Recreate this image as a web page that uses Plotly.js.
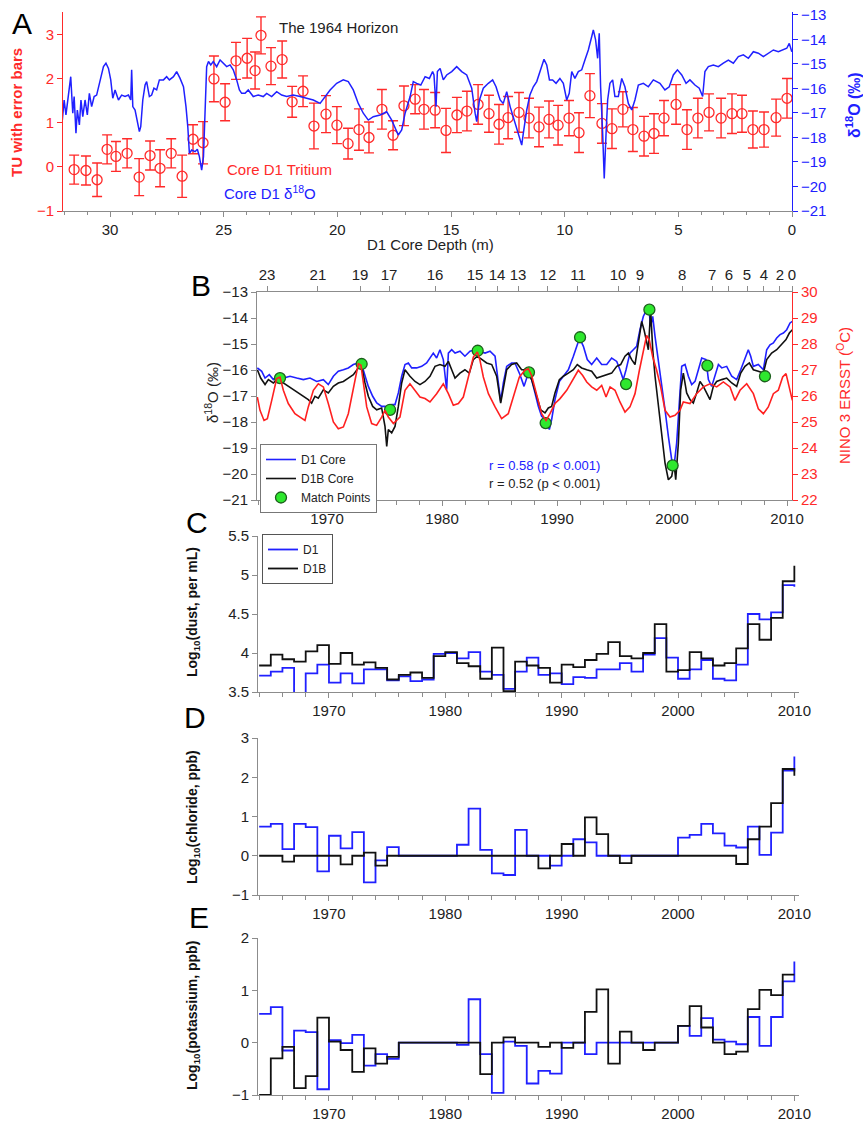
<!DOCTYPE html>
<html><head><meta charset="utf-8">
<script src="https://cdn.plot.ly/plotly-3.0.1.min.js"></script>
<style>html,body{margin:0;padding:0;background:#fff}#chart{width:863px;height:1126px}</style>
</head><body><div id="chart"></div>
<script>
// ---------- Panel A: tritium ----------
const triDepth = [31.58,31.06,30.57,30.13,29.74,29.25,28.72,28.24,27.80,27.31,26.83,26.35,25.91,25.43,24.94,24.46,23.97,23.62,23.36,22.92,22.43,21.99,21.51,21.03,20.50,20.02,19.53,19.05,18.61,18.04,17.55,17.07,16.58,16.19,15.70,15.22,14.74,14.30,13.81,13.33,12.89,12.49,12.01,11.57,11.13,10.69,10.29,9.81,9.37,8.89,8.36,7.92,7.44,7.00,6.51,6.07,5.63,5.10,4.62,4.14,3.65,3.12,2.64,2.20,1.72,1.23,0.70,0.22];
const triTU = [-0.06,-0.08,-0.29,0.40,0.24,0.31,-0.23,0.26,-0.03,0.31,-0.21,0.63,0.55,2.0,1.47,2.41,2.47,2.19,2.99,2.29,2.44,1.48,1.72,0.93,1.2,0.95,0.53,0.85,0.67,1.31,0.72,1.39,1.54,1.31,1.29,0.83,1.18,1.27,1.42,1.21,0.97,1.12,1.24,1.11,0.91,1.08,0.95,1.11,0.78,1.62,0.99,0.87,1.31,0.85,0.70,0.76,1.11,1.42,0.85,1.11,1.24,1.11,1.21,1.21,0.85,0.85,1.12,1.56];
const triErr = [0.33,0.33,0.38,0.33,0.34,0.33,0.42,0.33,0.42,0.33,0.48,0.33,0.48,0.52,0.42,0.42,0.45,0.42,0.42,0.42,0.42,0.35,0.35,0.52,0.42,0.42,0.35,0.47,0.35,0.45,0.33,0.45,0.33,0.45,0.40,0.50,0.40,0.45,0.45,0.42,0.45,0.48,0.45,0.45,0.45,0.42,0.45,0.40,0.45,0.50,0.45,0.45,0.40,0.50,0.45,0.45,0.40,0.45,0.45,0.45,0.42,0.45,0.45,0.42,0.42,0.40,0.42,0.45];
// ---------- Panel A: D1 d18O by depth ----------
const aDepth = [32.10,32.02,31.94,31.83,31.73,31.64,31.58,31.50,31.44,31.35,31.28,31.20,31.10,31.00,30.91,30.81,30.70,30.59,30.44,30.29,30.18,30.07,29.97,29.88,29.78,29.63,29.49,29.34,29.19,29.09,29.05,29.00,28.90,28.80,28.71,28.65,28.56,28.46,28.39,28.27,28.17,28.07,27.95,27.83,27.65,27.51,27.39,27.21,27.07,26.92,26.77,26.66,26.58,26.51,26.41,26.26,26.16,26.07,25.97,25.89,25.82,25.75,25.67,25.57,25.46,25.31,25.16,25.01,24.87,24.72,24.58,24.43,24.31,24.21,24.06,23.92,23.70,23.48,23.26,23.11,22.89,22.67,22.45,22.23,21.94,21.64,21.35,21.06,20.76,20.54,20.32,20.03,19.74,19.52,19.30,19.08,18.86,18.64,18.42,18.12,17.83,17.61,17.46,17.32,17.17,17.02,16.80,16.66,16.51,16.33,16.14,15.95,15.81,15.75,15.66,15.60,15.48,15.34,15.19,14.97,14.75,14.53,14.31,14.09,13.94,13.87,13.75,13.58,13.36,13.17,13.02,12.84,12.70,12.55,12.40,12.18,12.04,11.89,11.82,11.67,11.53,11.38,11.23,11.06,10.91,10.79,10.67,10.53,10.38,10.21,10.06,9.91,9.80,9.69,9.55,9.40,9.25,9.11,8.96,8.81,8.74,8.64,8.55,8.48,8.42,8.33,8.26,8.18,8.11,8.01,7.89,7.79,7.64,7.49,7.35,7.20,7.05,6.91,6.76,6.54,6.32,6.10,5.81,5.59,5.40,5.22,5.04,4.85,4.66,4.49,4.27,4.08,3.93,3.83,3.68,3.46,3.24,3.02,2.80,2.58,2.36,2.14,1.92,1.70,1.48,1.26,1.04,0.82,0.60,0.38,0.23,0.12,0.01];
const aD18O = [-17.29,-16.47,-17.08,-16.33,-15.52,-17.01,-16.33,-17.83,-16.88,-17.49,-16.47,-17.15,-16.47,-17.08,-16.20,-16.74,-16.33,-16.27,-15.65,-15.11,-14.97,-15.18,-15.65,-16.40,-16.06,-16.47,-16.27,-16.33,-16.27,-16.47,-15.24,-16.74,-16.88,-17.42,-17.76,-17.56,-16.47,-15.86,-15.72,-16.33,-16.27,-15.99,-16.06,-15.65,-15.65,-15.52,-15.65,-15.52,-15.31,-15.59,-15.93,-16.74,-17.56,-18.65,-18.51,-18.58,-18.48,-18.78,-19.33,-18.78,-16.47,-15.11,-14.90,-15.04,-14.90,-15.11,-14.84,-14.97,-15.11,-15.04,-15.24,-15.65,-16.06,-16.20,-16.20,-16.06,-16.33,-16.27,-16.33,-16.20,-16.33,-16.13,-16.27,-16.33,-16.27,-16.33,-16.40,-16.47,-16.61,-16.33,-16.06,-15.79,-15.65,-15.72,-16.06,-16.61,-17.01,-17.29,-17.15,-17.08,-16.95,-17.29,-17.63,-17.90,-17.69,-17.01,-16.33,-15.72,-15.79,-15.86,-15.52,-15.59,-15.31,-15.45,-16.74,-15.31,-15.18,-15.65,-15.45,-15.31,-15.11,-15.31,-15.45,-15.99,-17.01,-17.35,-16.47,-15.99,-15.79,-15.65,-15.93,-16.47,-16.61,-16.13,-16.74,-17.42,-17.83,-18.31,-17.83,-16.88,-16.27,-15.93,-15.72,-15.24,-14.81,-15.04,-15.65,-15.65,-15.79,-15.59,-15.79,-16.47,-16.20,-15.31,-15.59,-15.31,-15.24,-14.84,-14.43,-13.88,-13.61,-14.02,-14.77,-13.75,-15.93,-17.83,-19.67,-17.83,-16.47,-15.79,-15.65,-16.33,-16.33,-15.59,-15.93,-16.61,-16.88,-16.47,-15.86,-15.79,-15.93,-15.65,-15.79,-16.06,-15.93,-15.45,-15.24,-15.45,-15.79,-15.65,-15.86,-15.99,-16.33,-15.31,-15.11,-15.04,-15.11,-14.97,-14.84,-14.97,-14.70,-14.63,-14.77,-14.50,-14.56,-14.70,-14.56,-14.43,-14.50,-14.43,-14.36,-14.16,-14.50];
// ---------- Panel B ----------
const d1Year = [1963.94,1964.32,1964.61,1964.98,1965.33,1965.77,1966.20,1966.78,1967.36,1967.94,1968.52,1969.10,1969.68,1970.11,1970.55,1970.98,1971.42,1971.85,1972.29,1972.72,1973.01,1973.30,1973.59,1973.97,1974.32,1974.75,1975.04,1975.33,1975.62,1975.91,1976.20,1976.49,1976.78,1977.07,1977.36,1977.79,1978.23,1978.66,1978.95,1979.24,1979.53,1979.82,1980.11,1980.40,1980.55,1980.84,1981.13,1981.56,1981.99,1982.43,1982.87,1983.30,1983.74,1984.17,1984.61,1984.90,1985.10,1985.33,1985.62,1986.05,1986.34,1986.78,1987.13,1987.50,1987.79,1988.08,1988.37,1988.66,1989.04,1989.33,1989.53,1989.82,1990.20,1990.55,1990.98,1991.42,1991.76,1991.96,1992.29,1992.63,1993.01,1993.45,1993.88,1994.32,1994.75,1995.19,1995.47,1995.76,1996.00,1996.34,1996.63,1996.92,1997.21,1997.50,1997.79,1997.98,1998.14,1998.32,1998.52,1998.81,1999.10,1999.39,1999.68,1999.97,2000.17,2000.40,2000.63,2000.84,2001.13,2001.42,2001.71,2002.00,2002.29,2002.58,2002.95,2003.16,2003.45,2003.74,2004.03,2004.32,2004.75,2005.19,2005.62,2005.97,2006.34,2006.63,2006.84,2007.07,2007.50,2007.94,2008.23,2008.52,2008.81,2009.10,2009.39,2009.68,2009.97,2010.26,2010.46];
const d1Val = [-15.92,-16.05,-16.31,-16.18,-16.37,-16.18,-16.31,-16.24,-16.31,-16.37,-16.31,-16.44,-16.37,-16.56,-16.24,-16.05,-15.99,-15.92,-15.79,-15.73,-15.79,-16.24,-16.63,-17.01,-17.27,-17.40,-17.40,-17.65,-17.33,-17.33,-16.88,-16.24,-15.79,-15.73,-15.92,-15.92,-15.86,-15.73,-15.54,-15.35,-15.54,-15.22,-15.60,-16.76,-15.35,-15.22,-15.35,-15.28,-15.47,-15.28,-15.22,-15.28,-15.35,-15.28,-15.47,-16.50,-17.21,-16.50,-15.86,-15.73,-15.73,-16.18,-16.63,-16.12,-16.37,-16.88,-17.40,-17.78,-17.91,-18.29,-17.91,-17.14,-16.44,-16.24,-15.99,-15.47,-15.03,-14.77,-15.09,-15.60,-15.79,-15.54,-15.79,-15.79,-15.54,-15.67,-15.99,-16.37,-15.99,-15.35,-15.22,-15.09,-14.45,-13.94,-13.68,-13.62,-14.32,-13.94,-14.71,-15.60,-16.50,-17.53,-18.55,-19.45,-19.71,-18.81,-17.27,-15.86,-15.79,-16.24,-16.56,-16.44,-15.99,-15.54,-15.60,-16.37,-16.63,-16.18,-15.79,-15.92,-15.86,-16.24,-16.37,-15.99,-15.60,-15.22,-15.47,-15.86,-15.79,-15.99,-15.22,-15.03,-14.96,-14.77,-14.64,-14.58,-14.45,-14.19,-14.13];
const d1bYear = [1963.94,1964.23,1964.61,1964.90,1965.33,1965.77,1966.20,1966.63,1967.07,1967.50,1967.94,1968.37,1968.66,1968.95,1969.24,1969.68,1970.11,1970.55,1970.98,1971.42,1971.85,1972.29,1972.72,1973.01,1973.30,1973.59,1973.97,1974.32,1974.75,1975.04,1975.19,1975.33,1975.62,1975.91,1976.20,1976.49,1976.78,1977.21,1977.65,1978.08,1978.52,1978.95,1979.39,1979.82,1980.26,1980.55,1980.84,1981.13,1981.56,1981.99,1982.37,1982.72,1983.07,1983.45,1983.88,1984.32,1984.75,1985.10,1985.33,1985.62,1986.05,1986.49,1986.92,1987.36,1987.79,1988.23,1988.58,1988.95,1989.24,1989.53,1989.82,1990.20,1990.55,1990.98,1991.42,1991.76,1992.14,1992.58,1993.01,1993.45,1993.88,1994.32,1994.75,1995.19,1995.53,1995.91,1996.20,1996.49,1996.78,1997.07,1997.36,1997.56,1997.74,1997.94,1998.14,1998.32,1998.52,1998.81,1999.10,1999.39,1999.68,1999.97,2000.17,2000.32,2000.55,2000.75,2000.98,2001.27,2001.56,2001.85,2002.14,2002.43,2002.72,2003.01,2003.30,2003.59,2003.88,2004.32,2004.75,2005.19,2005.62,2005.97,2006.34,2006.72,2007.07,2007.50,2007.94,2008.23,2008.66,2009.10,2009.53,2009.91,2010.20,2010.46];
const d1bVal = [-15.99,-16.31,-16.56,-16.37,-16.50,-16.31,-16.50,-16.63,-16.76,-16.88,-17.01,-17.14,-17.27,-17.01,-17.08,-16.76,-16.88,-16.63,-16.50,-16.44,-16.31,-16.18,-15.92,-15.86,-16.50,-17.01,-17.40,-17.53,-17.46,-18.17,-18.94,-18.29,-18.42,-18.17,-17.40,-16.50,-15.99,-16.24,-16.44,-16.56,-16.44,-16.24,-15.86,-15.79,-15.86,-15.67,-15.99,-16.31,-16.12,-15.99,-16.12,-15.60,-15.47,-15.60,-15.73,-15.79,-16.24,-17.27,-16.76,-15.99,-15.79,-15.73,-15.99,-15.99,-16.37,-17.01,-17.53,-17.65,-17.46,-17.40,-16.88,-16.37,-16.24,-16.12,-15.99,-15.79,-15.92,-15.99,-16.05,-16.31,-16.24,-16.18,-16.12,-15.86,-15.79,-15.47,-15.35,-15.60,-15.79,-14.96,-14.13,-14.45,-14.86,-15.22,-13.68,-15.22,-16.24,-17.40,-18.55,-19.58,-20.22,-20.09,-19.58,-20.22,-18.81,-16.76,-16.12,-16.88,-17.14,-17.27,-16.88,-16.44,-16.63,-16.88,-17.14,-16.63,-16.44,-16.37,-16.31,-16.50,-16.63,-16.12,-15.86,-15.73,-15.99,-16.05,-16.12,-15.60,-15.35,-15.22,-15.03,-14.83,-14.58,-14.45];
const ninoYear = [1963.94,1964.17,1964.52,1964.81,1965.19,1965.62,1965.91,1966.20,1966.63,1967.21,1967.65,1968.08,1968.37,1968.81,1969.24,1969.68,1970.11,1970.55,1970.98,1971.42,1971.85,1972.29,1972.72,1972.95,1973.16,1973.45,1973.88,1974.31,1974.75,1975.04,1975.33,1975.77,1976.34,1976.78,1977.21,1977.65,1978.08,1978.52,1978.95,1979.53,1980.11,1980.55,1980.98,1981.42,1981.85,1982.29,1982.72,1983.07,1983.30,1983.59,1984.03,1984.61,1985.18,1985.76,1986.20,1986.72,1987.21,1987.50,1987.79,1988.23,1988.66,1989.04,1989.39,1989.82,1990.26,1990.84,1991.42,1991.85,1992.23,1992.58,1993.01,1993.45,1993.88,1994.26,1994.61,1995.04,1995.47,1995.91,1996.34,1996.78,1997.16,1997.50,1997.79,1998.03,1998.32,1998.66,1999.01,1999.39,1999.82,2000.26,2000.69,2000.98,2001.56,2002.14,2002.72,2003.30,2003.88,2004.46,2005.04,2005.47,2005.91,2006.49,2007.07,2007.50,2007.94,2008.37,2008.81,2009.24,2009.62,2009.91,2010.20,2010.46];
const ninoSST = [25.96,25.45,25.06,25.13,25.83,26.67,26.73,26.22,25.71,25.32,25.19,25.06,25.58,26.22,26.47,26.35,25.71,25.00,24.74,24.81,25.32,26.35,27.24,27.18,26.47,25.58,24.94,24.87,25.19,25.45,25.19,24.94,25.19,26.22,26.47,26.22,25.96,25.90,25.77,26.09,26.47,26.09,25.64,25.71,25.96,26.73,27.50,27.69,27.37,26.73,26.09,25.58,25.13,25.32,25.96,26.73,26.99,27.05,26.79,26.09,25.32,25.06,25.32,25.71,25.90,26.22,26.67,26.99,26.79,26.54,26.35,26.22,26.41,25.96,26.35,26.22,25.77,25.38,25.58,26.09,26.99,27.76,28.33,28.14,27.50,26.99,26.35,25.45,25.19,25.26,25.45,25.77,25.71,26.09,26.35,26.47,26.35,26.54,26.35,25.83,26.22,26.47,26.09,25.51,25.32,25.58,26.09,26.22,26.73,26.86,26.35,25.83];
const matchYear = [1965.91,1973.01,1975.48,1983.10,1987.56,1989.01,1992.00,1996.00,1998.03,2000.05,2003.07,2008.08];
const matchVal = [-16.31,-15.77,-17.53,-15.26,-16.09,-18.04,-14.74,-16.54,-13.68,-19.67,-15.83,-16.24];
const depthTickYear = [1964.78,1969.21,1972.87,1975.39,1979.39,1982.87,1984.78,1986.61,1989.21,1991.82,1995.30,1997.21,2000.87,2003.48,2004.95,2006.52,2007.99,2009.38,2010.43];
const depthTickLabel = ['23','21','19','17','16','15','14','13','12','11','10','9','8','7','6','5','4','2','0'];
// ---------- Panels C, D, E (annual steps) ----------
const years = [1964,1965,1966,1967,1968,1969,1970,1971,1972,1973,1974,1975,1976,1977,1978,1979,1980,1981,1982,1983,1984,1985,1986,1987,1988,1989,1990,1991,1992,1993,1994,1995,1996,1997,1998,1999,2000,2001,2002,2003,2004,2005,2006,2007,2008,2009,2010];
const dustD1 = [3.71,3.76,3.81,3.3,3.74,3.85,3.62,3.74,3.61,3.79,3.79,3.65,3.70,3.64,3.66,3.99,4.0,3.93,4.01,3.76,3.72,3.54,3.76,3.94,3.72,3.74,3.60,3.69,3.68,3.79,3.79,3.87,3.76,3.98,4.19,3.94,3.67,3.79,3.91,3.67,3.65,3.85,4.50,4.43,4.52,4.87,4.85];
const dustD1B = [3.84,3.98,3.92,3.89,4.02,4.10,3.86,4.0,3.85,3.88,3.81,3.66,3.72,3.75,3.68,3.96,4.01,3.87,3.83,3.67,4.07,3.51,3.89,3.84,3.81,3.62,3.85,3.82,3.91,3.99,4.14,3.96,3.93,4.0,4.37,3.76,3.78,4.01,3.93,3.84,3.87,4.06,4.37,4.17,4.45,4.92,5.12];
const clD1 = [0.74,0.81,0.17,0.81,0.73,-0.40,0.51,0.19,0.60,-0.68,-0.12,0.22,0,0,0,0,0,0.28,1.2,0.15,-0.45,-0.49,0.66,0,0,-0.25,0,0.42,0.34,0,0,0,0,0,0,0,0.46,0.53,0.81,0.57,0.26,0.21,0.74,0.02,0.59,2.17,2.53];
const clD1B = [0,0,-0.15,0,0,0,0,-0.22,0,0.08,-0.25,0,0,0,0,0,0,0,0,0,0,0,0,0,-0.32,0,0.30,0,0.98,0.55,0,-0.19,0,0,0,0,0,0,0,0,0,-0.21,0.42,0.74,1.34,2.21,2.04];
const kD1 = [0.55,0.68,-0.15,0.23,0.20,-0.89,0.05,-0.01,0.15,-0.44,-0.22,-0.31,0,0,0,0,0,-0.04,0.83,-0.22,-0.96,0.02,-0.06,-0.78,-0.54,-0.59,0,0,-0.22,0,0,0,0,0,0,0,0.32,0.13,0.47,0.06,0.02,-0.03,0.49,-0.06,0.49,1.17,1.55];
const kD1B = [-1.0,-0.30,-0.08,-0.87,-0.64,0.48,0.02,-0.14,-0.56,-0.11,-0.40,-0.27,0,0,0,0,0,0,0,-0.60,0,0.10,0,0,-0.08,0,-0.10,0,0.59,1.02,-0.40,0.21,0,-0.14,0,0,0.32,0.70,0.29,0,-0.22,-0.17,0.64,1.01,0.91,1.30,1.30];

// ---------- styling / layout ----------
const W = 863, H = 1126;
const px = v => v / W, py = v => 1 - v / H;
const FONT = 'Liberation Sans, Arial, Helvetica, sans-serif';
const GRAY = '#8c8c8c', RED = '#ff2a2a', BLUE = '#2020ff', BLK = '#111111';
function ax(o) {
  return Object.assign({showgrid:false, zeroline:false, showline:true, linecolor:GRAY, linewidth:1,
    ticks:'outside', ticklen:5, tickcolor:GRAY, tickwidth:1, tickfont:{size:15, color:'#222', family:FONT},
    automargin:false, fixedrange:true}, o);
}
const minorYr = {dtick:2, ticks:'outside', ticklen:4, tickcolor:GRAY, showgrid:false};
const decades = [1970,1980,1990,2000,2010];

const traces = [
  {x:aDepth, y:aD18O, xaxis:'x', yaxis:'y2', mode:'lines', line:{color:BLUE, width:1.5}, showlegend:false, hoverinfo:'skip'},
  {x:triDepth, y:triTU, xaxis:'x', yaxis:'y', mode:'markers', showlegend:false,
   marker:{symbol:'circle-open', size:10, color:RED, line:{width:1.3, color:RED}},
   error_y:{type:'data', array:triErr, visible:true, color:RED, thickness:1.4, width:5}},
  {x:ninoYear, y:ninoSST, xaxis:'x2', yaxis:'y4', mode:'lines', line:{color:'#ff2020', width:1.6}, showlegend:false},
  {x:d1Year, y:d1Val, xaxis:'x2', yaxis:'y3', mode:'lines', name:'D1 Core', line:{color:BLUE, width:1.6}, legend:'legend'},
  {x:d1bYear, y:d1bVal, xaxis:'x2', yaxis:'y3', mode:'lines', name:'D1B Core', line:{color:BLK, width:1.6}, legend:'legend'},
  {x:matchYear, y:matchVal, xaxis:'x2', yaxis:'y3', mode:'markers', name:'Match Points',
   marker:{symbol:'circle', size:11, color:'#2ee82e', line:{color:'#1d5e1d', width:1.3}}, legend:'legend'},
  {x:[], y:[], xaxis:'x3', yaxis:'y3', mode:'lines', showlegend:false, hoverinfo:'skip'},
  {x:years, y:dustD1, xaxis:'x4', yaxis:'y5', mode:'lines', line:{shape:'hv', color:BLUE, width:1.8}, name:'D1', legend:'legend2'},
  {x:years, y:dustD1B, xaxis:'x4', yaxis:'y5', mode:'lines', line:{shape:'hv', color:BLK, width:1.8}, name:'D1B', legend:'legend2'},
  {x:years, y:clD1, xaxis:'x5', yaxis:'y6', mode:'lines', line:{shape:'hv', color:BLUE, width:1.8}, showlegend:false},
  {x:years, y:clD1B, xaxis:'x5', yaxis:'y6', mode:'lines', line:{shape:'hv', color:BLK, width:1.8}, showlegend:false},
  {x:years, y:kD1, xaxis:'x6', yaxis:'y7', mode:'lines', line:{shape:'hv', color:BLUE, width:1.8}, showlegend:false},
  {x:years, y:kD1B, xaxis:'x6', yaxis:'y7', mode:'lines', line:{shape:'hv', color:BLK, width:1.8}, showlegend:false}
];

const xB = [px(257), px(792)], xCDE = [px(258), px(799)];
function ann(text, x, y, o) {
  return Object.assign({text:text, x:px(x), y:py(y), xref:'paper', yref:'paper', showarrow:false,
    xanchor:'center', yanchor:'middle', font:{family:FONT, size:15, color:'#222'}}, o || {});
}
const layout = {
  width:W, height:H, margin:{l:0, r:0, t:0, b:0}, paper_bgcolor:'#fff', plot_bgcolor:'rgba(0,0,0,0)',
  font:{family:FONT, color:'#222'},
  xaxis: ax({domain:[px(63), px(792)], anchor:'y', range:[32.07, 0], tickvals:[30,25,20,15,10,5,0],
             minor:{dtick:1, ticks:'outside', ticklen:3, tickcolor:GRAY}}),
  yaxis: ax({domain:[py(211), py(12)], anchor:'x', range:[-1, 3.52], tickvals:[-1,0,1,2,3],
             linecolor:RED, tickcolor:RED, tickfont:{size:15, color:RED, family:FONT}}),
  yaxis2: ax({overlaying:'y', side:'right', anchor:'x', range:[-21, -12.88], tickvals:[-21,-20,-19,-18,-17,-16,-15,-14,-13],
             linecolor:BLUE, tickcolor:BLUE, tickfont:{size:15, color:BLUE, family:FONT}}),
  xaxis2: ax({domain:xB, anchor:'y3', range:[1963.91, 2010.43], tickvals:decades, minor:minorYr}),
  xaxis3: ax({overlaying:'x2', side:'top', anchor:'y3', range:[1963.91, 2010.43], tickvals:depthTickYear, ticktext:depthTickLabel}),
  yaxis3: ax({domain:[py(500), py(292)], anchor:'x2', range:[-21, -13], dtick:1, tick0:-21}),
  yaxis4: ax({overlaying:'y3', side:'right', anchor:'x2', range:[22, 30], dtick:1, tick0:22,
             linecolor:RED, tickcolor:RED, tickfont:{size:15, color:RED, family:FONT}}),
  xaxis4: ax({domain:xCDE, anchor:'y5', range:[1963.9, 2010.4], tickvals:decades, minor:minorYr}),
  yaxis5: ax({domain:[py(692), py(536)], anchor:'x4', range:[3.5, 5.5], tickvals:[3.5,4,4.5,5,5.5]}),
  xaxis5: ax({domain:xCDE, anchor:'y6', range:[1963.9, 2010.4], tickvals:decades, minor:minorYr}),
  yaxis6: ax({domain:[py(895), py(738)], anchor:'x5', range:[-1, 3], tickvals:[-1,0,1,2,3]}),
  xaxis6: ax({domain:xCDE, anchor:'y7', range:[1963.9, 2010.4], tickvals:decades, minor:minorYr}),
  yaxis7: ax({domain:[py(1095), py(938)], anchor:'x6', range:[-1, 2], tickvals:[-1,0,1,2]}),
  legend: {x:px(260), y:py(444), xanchor:'left', yanchor:'top', bgcolor:'#fff', bordercolor:'#777', borderwidth:1,
           font:{family:FONT, size:12, color:'#222'}, itemwidth:30, tracegroupgap:0},
  legend2: {x:px(262), y:py(534), xanchor:'left', yanchor:'top', bgcolor:'#fff', bordercolor:'#555', borderwidth:1,
           font:{family:FONT, size:12, color:'#222'}, itemwidth:30, tracegroupgap:0},
  annotations: [
    ann('A', 22, 23, {font:{family:FONT, size:30, color:'#000'}}),
    ann('B', 201, 285, {font:{family:FONT, size:30, color:'#000'}}),
    ann('C', 197, 522, {font:{family:FONT, size:30, color:'#000'}}),
    ann('D', 195, 717, {font:{family:FONT, size:30, color:'#000'}}),
    ann('E', 199, 917, {font:{family:FONT, size:30, color:'#000'}}),
    ann('The 1964 Horizon', 338, 28, {font:{family:FONT, size:15, color:'#222'}}),
    ann('Core D1 Tritium', 225, 169, {xanchor:'left', font:{family:FONT, size:15, color:RED}}),
    ann('Core D1 δ<sup>18</sup>O', 222, 192, {xanchor:'left', font:{family:FONT, size:15, color:BLUE}}),
    ann('D1 Core Depth (m)', 430, 245, {font:{family:FONT, size:15, color:'#222'}}),
    ann('<b>TU with error bars</b>', 17, 113, {textangle:-90, font:{family:FONT, size:15, color:RED}}),
    ann('<b>δ<sup>18</sup>O (‰)</b>', 853, 105, {textangle:-90, font:{family:FONT, size:16, color:BLUE}}),
    ann('δ<sup>18</sup>O (‰)', 211, 393, {textangle:-90, font:{family:FONT, size:15, color:'#222'}}),
    ann('NINO 3 ERSST (<sup>O</sup>C)', 843, 396, {textangle:-90, font:{family:FONT, size:15, color:RED}}),
    ann('r = 0.58 (p &lt; 0.001)', 487, 466, {xanchor:'left', font:{family:FONT, size:13, color:BLUE}}),
    ann('r = 0.52 (p &lt; 0.001)', 487, 483, {xanchor:'left', font:{family:FONT, size:13, color:'#222'}}),
    ann('<b>Log<sub>10</sub>(dust, per mL)</b>', 193, 612, {textangle:-90, font:{family:FONT, size:14, color:'#111'}}),
    ann('<b>Log<sub>10</sub>(chloride, ppb)</b>', 193, 817, {textangle:-90, font:{family:FONT, size:14, color:'#111'}}),
    ann('<b>Log<sub>10</sub>(potassium, ppb)</b>', 193, 1016, {textangle:-90, font:{family:FONT, size:14, color:'#111'}})
  ]
};
Plotly.newPlot('chart', traces, layout, {displayModeBar:false, staticPlot:true});
</script></body></html>
